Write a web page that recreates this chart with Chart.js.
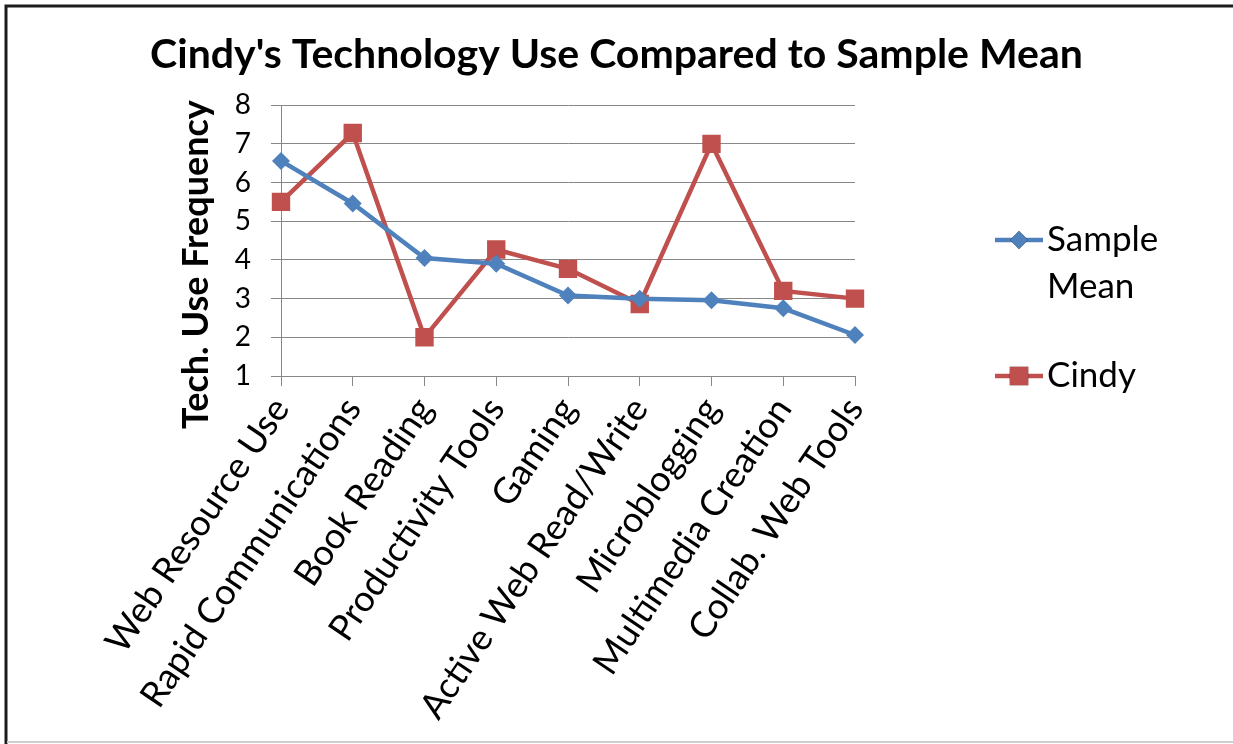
<!DOCTYPE html>
<html>
<head>
<meta charset="utf-8">
<script src="https://cdn.jsdelivr.net/npm/chart.js@4.4.1/dist/chart.umd.min.js"></script>
<style>
  html, body { margin: 0; padding: 0; background: #ffffff; overflow: hidden; }
  canvas { display: block; }
</style>
</head>
<body>
<canvas id="chart" width="1233" height="744"></canvas>
<script>
// Technology-use categories along the x axis
const categories = [
  'Web Resource Use', 'Rapid Communications', 'Book Reading', 'Productivity Tools',
  'Gaming', 'Active Web Read/Write', 'Microblogging', 'Multimedia Creation', 'Collab. Web Tools'
];
// Series values (frequency scale 1-8)
const sampleMean = [6.56, 5.46, 4.05, 3.9, 3.08, 3.0, 2.96, 2.75, 2.06];
const cindy = [5.5, 7.28, 2.0, 4.27, 3.77, 2.86, 7.0, 3.2, 3.0];
// Value axis ticks
const yTicks = [1, 2, 3, 4, 5, 6, 7, 8];

const BLUE = '#4F81BD';
const RED = '#C0504D';
const GRID = '#878787';
const FONT = 'Lato, "Open Sans", sans-serif';

// White page with the outer frame
const framePlugin = {
  id: 'frame',
  beforeDraw(chart) {
    const { ctx, width, height } = chart;
    ctx.save();
    ctx.fillStyle = '#fff';
    ctx.fillRect(0, 0, width, height);
    ctx.strokeStyle = '#1c1c1c';
    ctx.lineWidth = 3;
    ctx.beginPath();
    ctx.moveTo(width, 6);
    ctx.lineTo(6, 6);
    ctx.lineTo(6, height);
    ctx.stroke();
    ctx.strokeStyle = '#cfcfcf';
    ctx.lineWidth = 2;
    ctx.beginPath();
    ctx.moveTo(7, height - 2);
    ctx.lineTo(width, height - 2);
    ctx.stroke();
    ctx.restore();
  }
};

// Vertical axis title, drawn beside the value labels
const yTitlePlugin = {
  id: 'yTitle',
  afterDraw(chart) {
    const { ctx, chartArea } = chart;
    ctx.save();
    ctx.translate(196, (chartArea.top + chartArea.bottom) / 2 + 24);
    ctx.rotate(-Math.PI / 2);
    ctx.font = 'bold 36px ' + FONT;
    ctx.fillStyle = '#000';
    ctx.textAlign = 'center';
    ctx.textBaseline = 'middle';
    ctx.fillText('Tech. Use Frequency', 0, 0);
    ctx.restore();
  }
};

// Legend on the right, with the first label wrapped over two lines
const legendPlugin = {
  id: 'sideLegend',
  afterDraw(chart) {
    const { ctx } = chart;
    const items = [
      { ds: chart.data.datasets[0], y: 240, lines: ['Sample', 'Mean'] },
      { ds: chart.data.datasets[1], y: 376, lines: ['Cindy'] }
    ];
    ctx.save();
    items.forEach(it => {
      const ds = it.ds;
      ctx.strokeStyle = ds.borderColor;
      ctx.lineWidth = ds.borderWidth;
      ctx.beginPath();
      ctx.moveTo(995, it.y);
      ctx.lineTo(1043, it.y);
      ctx.stroke();
      Chart.helpers.drawPoint(ctx, {
        pointStyle: ds.pointStyle,
        radius: ds.pointRadius,
        borderWidth: 0,
        rotation: 0
      }, 1019, it.y);
      ctx.fillStyle = ds.pointBackgroundColor;
      ctx.fill();
      ctx.fillStyle = '#000';
      ctx.font = '35px ' + FONT;
      ctx.textAlign = 'left';
      ctx.textBaseline = 'middle';
      it.lines.forEach((t, i) => ctx.fillText(t, 1047, it.y + i * 47));
    });
    ctx.restore();
  }
};

new Chart(document.getElementById('chart'), {
  type: 'line',
  data: {
    labels: categories,
    datasets: [
      {
        label: 'Sample Mean',
        data: sampleMean,
        borderColor: BLUE,
        backgroundColor: BLUE,
        pointBackgroundColor: BLUE,
        pointBorderColor: BLUE,
        borderWidth: 4.5,
        pointStyle: 'rectRot',
        pointRadius: 9,
        pointBorderWidth: 0,
        tension: 0
      },
      {
        label: 'Cindy',
        data: cindy,
        borderColor: RED,
        backgroundColor: RED,
        pointBackgroundColor: RED,
        pointBorderColor: RED,
        borderWidth: 4.5,
        pointStyle: 'rect',
        pointRadius: 13,
        pointBorderWidth: 0,
        tension: 0
      }
    ]
  },
  options: {
    responsive: false,
    animation: false,
    events: [],
    layout: { padding: 0 },
    plugins: {
      legend: { display: false },
      tooltip: { enabled: false },
      title: {
        display: true,
        text: "Cindy's Technology Use Compared to Sample Mean",
        color: '#000',
        font: { family: FONT, size: 41, weight: 'bold' },
        padding: { top: 30, bottom: 26 }
      }
    },
    scales: {
      x: {
        offset: false,
        afterFit(scale) { scale.height = 368; },
        grid: { drawOnChartArea: false, drawTicks: true, tickLength: 10, color: GRID, lineWidth: 1 },
        border: { display: true, color: GRID, width: 1 },
        ticks: {
          color: '#000',
          font: { family: FONT, size: 36 },
          minRotation: 56,
          maxRotation: 56,
          autoSkip: false,
          padding: 4
        }
      },
      y: {
        min: 1,
        max: 8,
        afterFit(scale) { scale.width = 281; },
        afterBuildTicks(scale) { scale.ticks = yTicks.map(v => ({ value: v })); },
        grid: { color: GRID, lineWidth: 1, drawTicks: true, tickLength: 10 },
        border: { display: true, color: GRID, width: 1 },
        ticks: {
          color: '#000',
          font: { family: FONT, size: 28 },
          padding: 20
        }
      },
      // Space reserved on the right for the legend
      legendSpace: {
        type: 'linear',
        position: 'right',
        display: true,
        afterFit(scale) { scale.width = 378; },
        grid: { display: false, drawTicks: false },
        border: { display: false },
        ticks: { display: false }
      }
    }
  },
  plugins: [framePlugin, yTitlePlugin, legendPlugin]
});
</script>
</body>
</html>
